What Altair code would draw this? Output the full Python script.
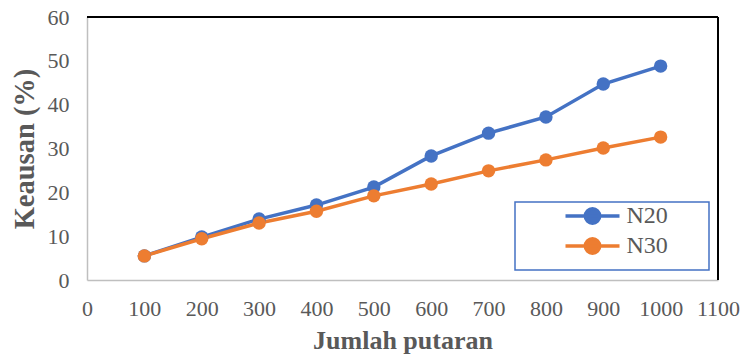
import altair as alt
import pandas as pd

# Wear (%) versus number of revolutions for two mixes
putaran = [100, 200, 300, 400, 500, 600, 700, 800, 900, 1000]
n20 = [5.5, 9.8, 13.9, 17.1, 21.2, 28.3, 33.5, 37.2, 44.7, 48.8]
n30 = [5.5, 9.4, 13.0, 15.7, 19.2, 21.9, 24.9, 27.4, 30.1, 32.6]
series = ["N20", "N30"]
colors = ["#4472C4", "#ED7D31"]

df = pd.DataFrame(
    {"putaran": putaran * 2,
     "keausan": n20 + n30,
     "seri": [series[0]] * len(putaran) + [series[1]] * len(putaran)}
)

W, H = 631, 263
FONT = "Liberation Serif"
GREY = "#595959"

# legend symbol: a line three units wide on each side with a dot in the middle;
# the trailing move-to widens the legend frame without drawing anything
sym = "M-3,0H3M-0.8,0A0.8,0.8 0 1,0 0.8,0A0.8,0.8 0 1,0 -0.8,0ZM11.85,0"

color = alt.Color(
    "seri:N",
    scale=alt.Scale(domain=series, range=colors),
    legend=alt.Legend(
        title="\u00a0", titleOrient="bottom", titleFontSize=6, titlePadding=2,
        orient="none", legendX=428, legendY=185,
        direction="vertical", symbolType=sym, symbolSize=324,
        symbolStrokeWidth=3.5, symbolOffset=63.5,
        fillColor="white", strokeColor="#4472C4",
        padding=2, rowPadding=0, labelOffset=22, offset=0,
    ),
)

x = alt.X("putaran:Q", title="Jumlah putaran",
          scale=alt.Scale(domain=[0, 1100], nice=False),
          axis=alt.Axis(values=list(range(0, 1101, 100)), grid=False,
                        format="d", labelOverlap=False, labelFlush=False))
y = alt.Y("keausan:Q", title="Keausan (%)",
          scale=alt.Scale(domain=[0, 60], nice=False),
          axis=alt.Axis(values=list(range(0, 61, 10)), grid=False, format="d",
                        titleFontSize=28.5))

lines = alt.Chart(df).mark_line(strokeWidth=3.5).encode(x=x, y=y, color=color)
points = alt.Chart(df).mark_point(filled=True, size=180, opacity=1).encode(
    x=x, y=y, color=color
)

# top and right frame edges of the plot area
top = alt.Chart(df).mark_rule(color="black", strokeWidth=1.5).encode(
    x=alt.value(0), x2=alt.value(W), y=alt.value(0)
)
right = alt.Chart(df).mark_rule(color="black", strokeWidth=1.5).encode(
    x=alt.value(W), y=alt.value(0), y2=alt.value(H)
)

chart = (
    alt.layer(top, right, lines, points)
    .properties(width=W, height=H, padding={"left": 87, "top": 17, "right": 27, "bottom": 78},
                autosize=alt.AutoSizeParams(type="none"))
    .configure(font=FONT)
    .configure_view(stroke=None)
    .configure_legend(strokeWidth=1.5, labelFont=FONT, labelFontSize=24,
                      labelColor=GREY, titleFont=FONT)
    .configure_axis(
        domainColor="#BFBFBF", domainWidth=1.5, ticks=False,
        labelFont=FONT, labelFontSize=22, labelColor=GREY, labelPadding=18,
        titleFont=FONT, titleFontSize=26, titleFontWeight="bold", titleColor=GREY,
    )
    .configure_axisX(titlePadding=8)
    .configure_axisY(titlePadding=8)
)

chart.save("out.html", embed_options={"renderer": "svg", "actions": False})
